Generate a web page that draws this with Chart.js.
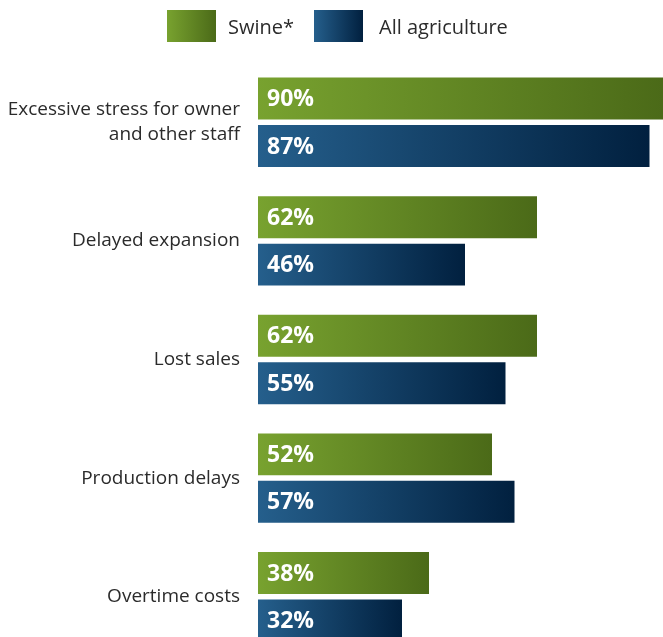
<!DOCTYPE html>
<html lang="en">
<head>
  <meta charset="UTF-8">
  <title>Impact of labor shortage</title>
  <script src="https://cdn.jsdelivr.net/npm/chart.js"></script>
  <style>
    html, body { margin: 0; padding: 0; background: #fff; overflow: hidden; }
    body { width: 663px; height: 637px; position: relative; font-family: "Open Sans", sans-serif; }
    .chart-box { position: absolute; left: 0; top: 0; width: 663px; height: 656px; }
    .legend { position: absolute; top: 10px; left: 0; width: 663px; height: 32px; }
    .legend-item { position: absolute; top: 0; display: flex; align-items: center; height: 32px; font-size: 20px; color: #2b2b2b; }
    .swatch { width: 49px; height: 32px; margin-right: 12px; }
    .swatch.swine { background: linear-gradient(to right, #78a22f, #4b6a18); }
    .swatch.allag { background: linear-gradient(to right, #255f8c, #01203f); }
  </style>
</head>
<body>
  <div class="chart-box"><canvas id="impactChart" width="663" height="656"></canvas></div>
  <div class="legend">
    <div class="legend-item" style="left:167px"><div class="swatch swine"></div>Swine*</div>
    <div class="legend-item" style="left:314px"><div class="swatch allag" style="margin-right:16px"></div>All agriculture</div>
  </div>

  <script>
    const categories = [
      ['Excessive stress for owner', 'and other staff'],
      'Delayed expansion',
      'Lost sales',
      'Production delays',
      'Overtime costs'
    ];
    const swineValues = [90, 62, 62, 52, 38];
    const allAgValues = [87, 46, 55, 57, 32];

    // left-to-right gradient running along each bar
    function barGradient(context, from, to) {
      const chart = context.chart;
      const x = chart.scales.x;
      if (!x || !chart.chartArea) return from;
      const value = context.raw || 0;
      const g = chart.ctx.createLinearGradient(x.getPixelForValue(0), 0, x.getPixelForValue(value), 0);
      g.addColorStop(0, from);
      g.addColorStop(1, to);
      return g;
    }

    // white percent labels inside the bars
    const valueLabels = {
      id: 'valueLabels',
      afterDatasetsDraw(chart) {
        const ctx = chart.ctx;
        ctx.save();
        ctx.fillStyle = '#ffffff';
        ctx.font = 'bold 23px "Open Sans", sans-serif';
        ctx.textAlign = 'left';
        ctx.textBaseline = 'middle';
        chart.data.datasets.forEach((ds, i) => {
          chart.getDatasetMeta(i).data.forEach((bar, j) => {
            ctx.fillText(ds.data[j] + '%', bar.base + 9, bar.y + 1);
          });
        });
        ctx.restore();
      }
    };

    new Chart(document.getElementById('impactChart'), {
      type: 'bar',
      data: {
        labels: categories,
        datasets: [
          {
            label: 'Swine*',
            data: swineValues,
            backgroundColor: ctx => barGradient(ctx, '#78a22f', '#4b6a18'),
            categoryPercentage: 0.8,
            barPercentage: 0.885
          },
          {
            label: 'All agriculture',
            data: allAgValues,
            backgroundColor: ctx => barGradient(ctx, '#255f8c', '#01203f'),
            categoryPercentage: 0.8,
            barPercentage: 0.885
          }
        ]
      },
      options: {
        indexAxis: 'y',
        responsive: false,
        animation: false,
        layout: { padding: { top: 63, right: 0, bottom: 0, left: 0 } },
        plugins: {
          legend: { display: false },
          tooltip: { enabled: false }
        },
        scales: {
          x: {
            display: false,
            min: 0,
            max: 90
          },
          y: {
            grid: { display: false, drawTicks: false },
            border: { display: false },
            afterFit(axis) {
              axis.width = 258;
              // labels sit inside their category bands, no extra edge room needed
              axis.paddingTop = 0;
              axis.paddingBottom = 0;
            },
            ticks: {
              color: '#2b2b2b',
              padding: 18,
              font: { family: '"Open Sans", sans-serif', size: 19, lineHeight: 1.32 }
            }
          }
        }
      },
      plugins: [valueLabels]
    });
  </script>
</body>
</html>
